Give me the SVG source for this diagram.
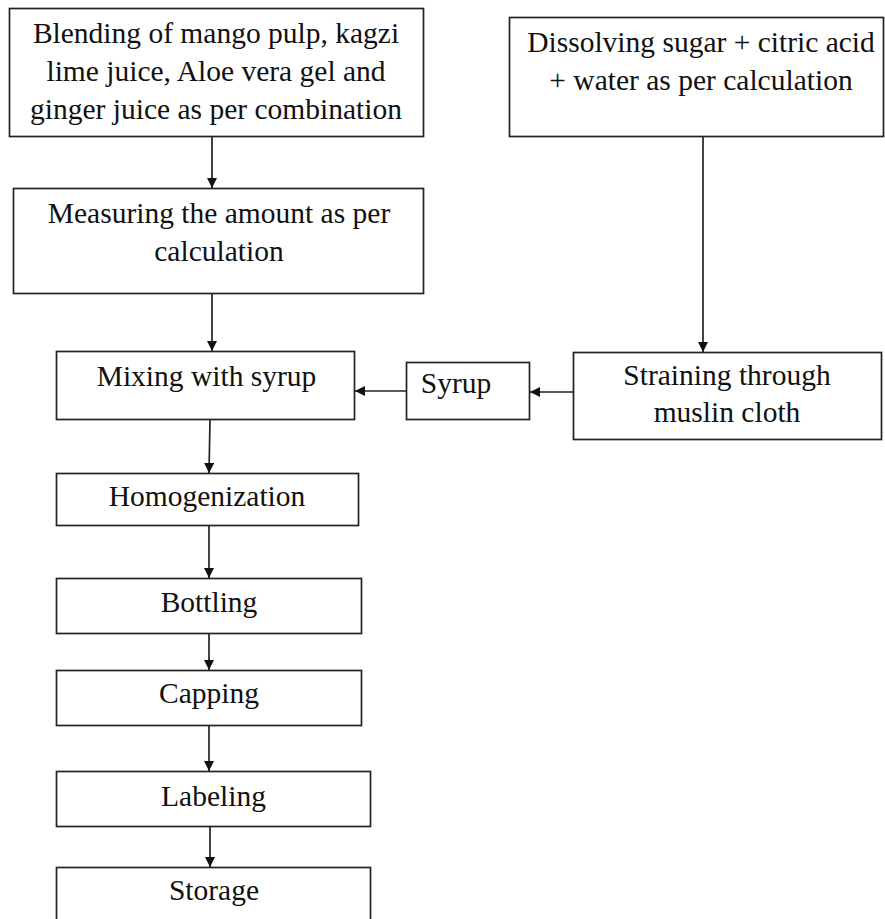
<svg xmlns="http://www.w3.org/2000/svg" width="885" height="919" viewBox="0 0 885 919">
<defs>
<style>
.box{fill:#fff;stroke:#222;stroke-width:1.7}
.t{font-family:"Liberation Serif","Times New Roman",serif;font-size:29.5px;fill:#111;text-anchor:middle}
.c{stroke:#222;stroke-width:1.7;fill:none}
</style>
<marker id="ah" viewBox="0 0 10 10" refX="10" refY="5" markerWidth="11" markerHeight="10" markerUnits="userSpaceOnUse" orient="auto">
<path d="M0,0 L10,5 L0,10 Z" fill="#111"/>
</marker>
</defs>
<rect width="885" height="919" fill="#fff"/>
<g id="connectors">
<line class="c" x1="212" y1="137" x2="212" y2="188" marker-end="url(#ah)"/>
<line class="c" x1="212" y1="294" x2="212" y2="351" marker-end="url(#ah)"/>
<line class="c" x1="703" y1="137" x2="703" y2="352" marker-end="url(#ah)"/>
<line class="c" x1="573" y1="392" x2="530" y2="392" marker-end="url(#ah)"/>
<line class="c" x1="406" y1="391" x2="355" y2="391" marker-end="url(#ah)"/>
<line class="c" x1="210" y1="420" x2="209" y2="473" marker-end="url(#ah)"/>
<line class="c" x1="209" y1="526" x2="209" y2="578" marker-end="url(#ah)"/>
<line class="c" x1="209" y1="634" x2="209" y2="670" marker-end="url(#ah)"/>
<line class="c" x1="209" y1="726" x2="209" y2="771" marker-end="url(#ah)"/>
<line class="c" x1="210" y1="827" x2="210" y2="867" marker-end="url(#ah)"/>
</g>
<g id="blending">
<rect class="box" x="9.5" y="8.5" width="414" height="128"/>
<text class="t" x="216" y="43">Blending of mango pulp, kagzi</text>
<text class="t" x="216" y="81">lime juice, Aloe vera gel and</text>
<text class="t" x="216" y="119">ginger juice as per combination</text>
</g>
<g id="measuring">
<rect class="box" x="13.5" y="188.5" width="410" height="105"/>
<text class="t" x="219" y="223">Measuring the amount as per</text>
<text class="t" x="219" y="261">calculation</text>
</g>
<g id="dissolving">
<rect class="box" x="509.5" y="17.5" width="374" height="119"/>
<text class="t" x="701" y="52">Dissolving sugar + citric acid</text>
<text class="t" x="701" y="90">+ water as per calculation</text>
</g>
<g id="straining">
<rect class="box" x="573.5" y="352.5" width="308" height="87"/>
<text class="t" x="727" y="385">Straining through</text>
<text class="t" x="727" y="422">muslin cloth</text>
</g>
<g id="syrup">
<rect class="box" x="406.5" y="362.5" width="123" height="57"/>
<text class="t" x="456" y="393">Syrup</text>
</g>
<g id="mixing">
<rect class="box" x="56.5" y="351.5" width="298" height="68"/>
<text class="t" x="206.5" y="386">Mixing with syrup</text>
</g>
<g id="homogenization">
<rect class="box" x="56.5" y="473.5" width="302" height="52"/>
<text class="t" x="207" y="506">Homogenization</text>
</g>
<g id="bottling">
<rect class="box" x="56.5" y="578.5" width="305" height="55"/>
<text class="t" x="209" y="612">Bottling</text>
</g>
<g id="capping">
<rect class="box" x="56.5" y="670.5" width="305" height="55"/>
<text class="t" x="209" y="703">Capping</text>
</g>
<g id="labeling">
<rect class="box" x="56.5" y="771.5" width="314" height="55"/>
<text class="t" x="213.5" y="806">Labeling</text>
</g>
<g id="storage">
<rect class="box" x="56.5" y="867.5" width="314" height="70"/>
<text class="t" x="214" y="900">Storage</text>
</g>
</svg>
